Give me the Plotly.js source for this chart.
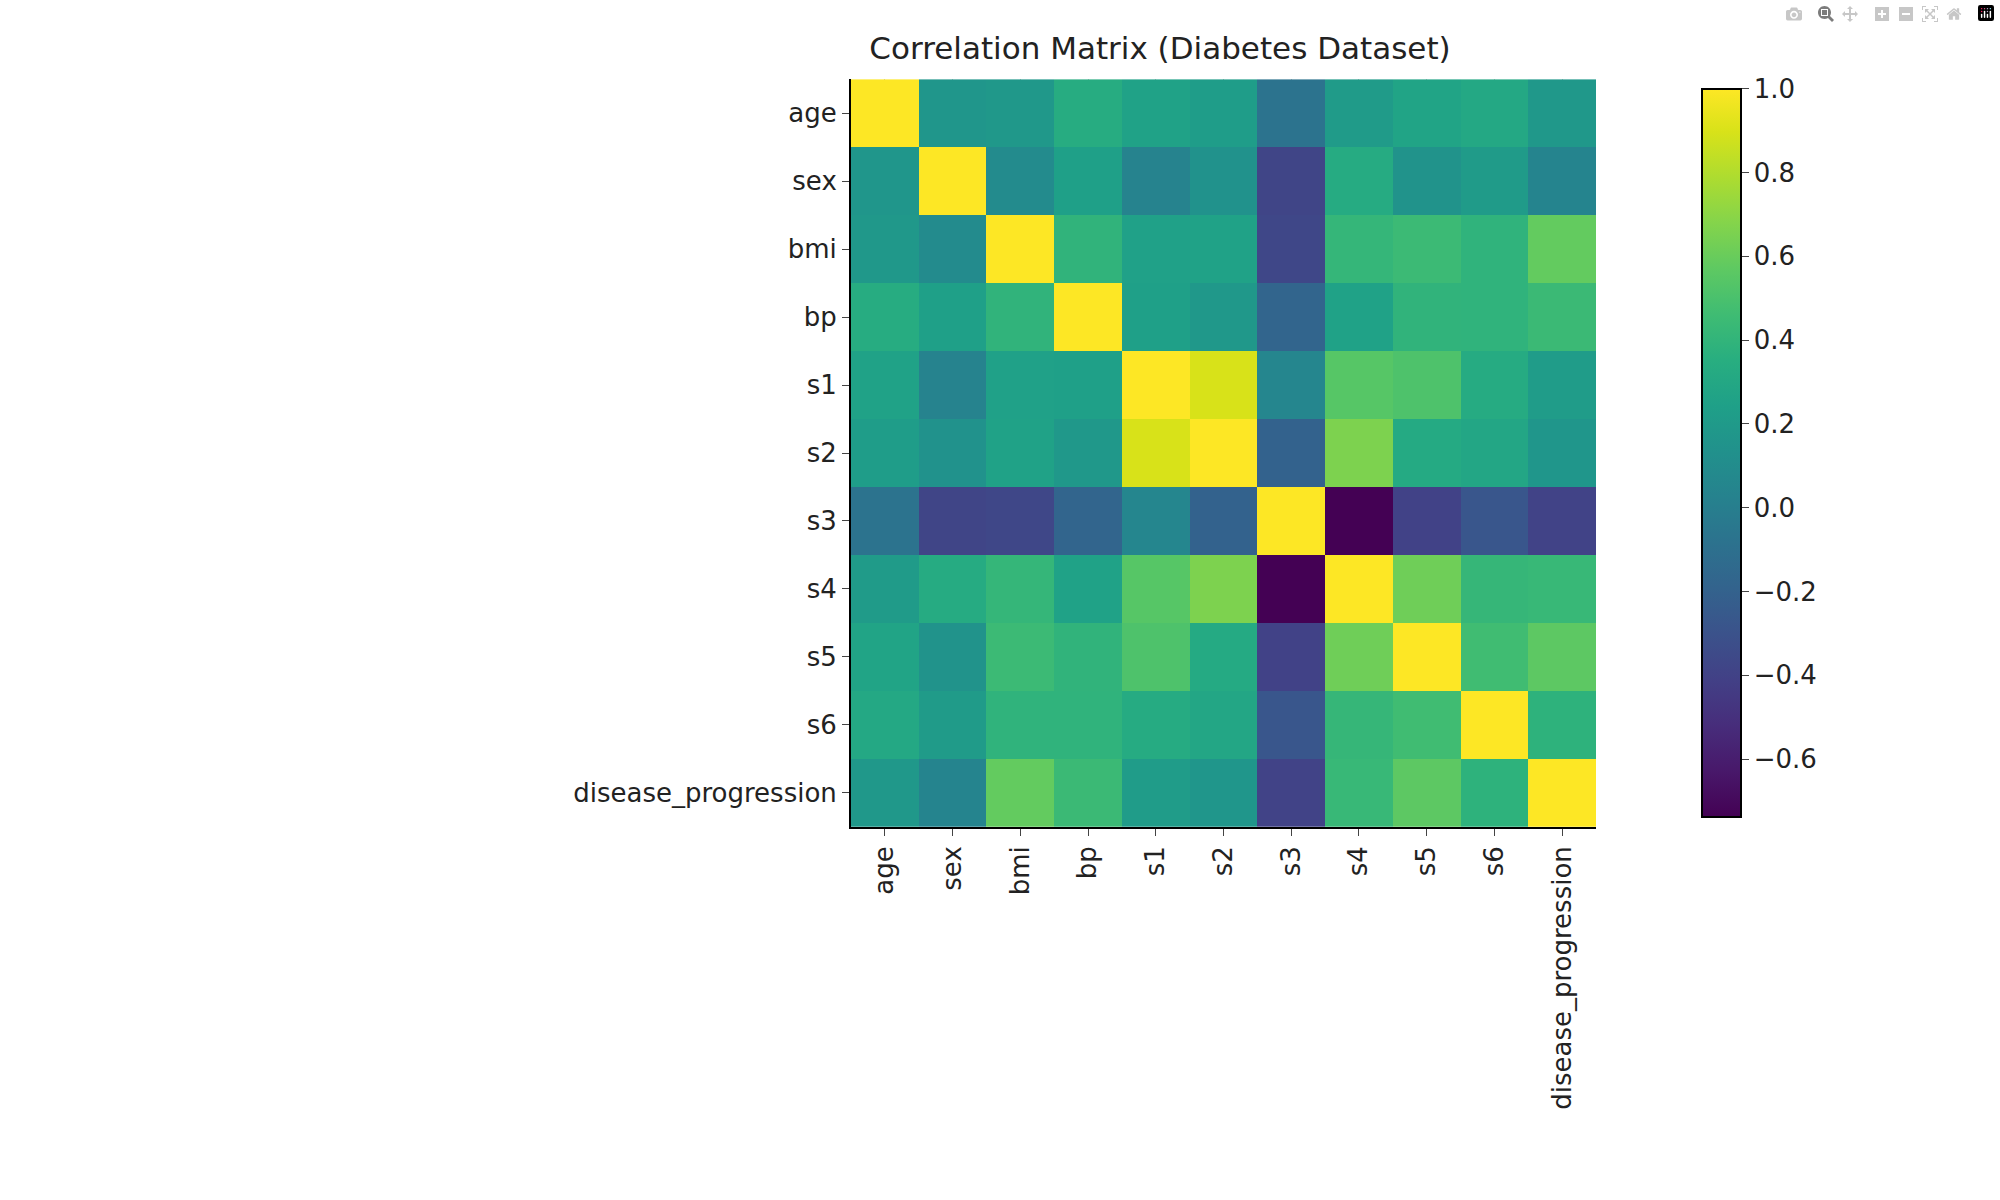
<!DOCTYPE html>
<html><head><meta charset="utf-8">
<script src="https://cdn.plot.ly/plotly-3.0.1.min.js"></script>
<style>body{margin:0}#c{width:2000px;height:1200px}</style></head>
<body><div id="c"></div>
<script>
const labels = ["age","sex","bmi","bp","s1","s2","s3","s4","s5","s6","disease_progression"];
const corr = [
 [1,0.174,0.185,0.335,0.260,0.219,-0.075,0.204,0.271,0.302,0.188],
 [0.174,1,0.088,0.241,0.035,0.143,-0.379,0.332,0.150,0.208,0.043],
 [0.185,0.088,1,0.395,0.250,0.261,-0.367,0.414,0.446,0.389,0.586],
 [0.335,0.241,0.395,1,0.242,0.186,-0.179,0.258,0.393,0.390,0.441],
 [0.260,0.035,0.250,0.242,1,0.897,0.052,0.542,0.516,0.326,0.212],
 [0.219,0.143,0.261,0.186,0.897,1,-0.196,0.660,0.318,0.291,0.174],
 [-0.075,-0.379,-0.367,-0.179,0.052,-0.196,1,-0.738,-0.399,-0.274,-0.395],
 [0.204,0.332,0.414,0.258,0.542,0.660,-0.738,1,0.618,0.417,0.430],
 [0.271,0.150,0.446,0.393,0.516,0.318,-0.399,0.618,1,0.465,0.566],
 [0.302,0.208,0.389,0.390,0.326,0.291,-0.274,0.417,0.465,1,0.382],
 [0.188,0.043,0.586,0.441,0.212,0.174,-0.395,0.430,0.566,0.382,1]
];
const cbTicks = [-0.6,-0.4,-0.2,0.0,0.2,0.4,0.6,0.8,1.0];
const F = {family:"DejaVu Sans", size:26, color:"#222"};
Plotly.newPlot("c",[{
 type:"heatmap", z:corr, x:labels, y:labels, colorscale:"Viridis",
 zmin:-0.738, zmax:1, xgap:0, ygap:0,
 colorbar:{x:0.846, xanchor:"left", y:0.311, yanchor:"bottom", len:0.623, lenmode:"fraction",
   thickness:39, outlinewidth:2, outlinecolor:"#000", tickvals:cbTicks, tickformat:".1f",
   ticks:"outside", ticklen:7, tickfont:F}
}],{
 width:2000, height:1200, margin:{l:0,r:0,t:0,b:0},
 paper_bgcolor:"#fff", plot_bgcolor:"#fff", font:F,
 title:{text:"Correlation Matrix (Diabetes Dataset)", x:0.58, xanchor:"center", y:0.96, yanchor:"middle", font:{family:"DejaVu Sans", size:31, color:"#222"}},
 xaxis:{domain:[0.4255,0.798], tickangle:-90, showline:true, linecolor:"#000", linewidth:2,
   ticks:"outside", ticklen:7, showgrid:true, gridcolor:"rgba(180,180,180,0.8)", griddash:"dash", gridwidth:1, tickfont:F, zeroline:false},
 yaxis:{domain:[0.311,0.934], autorange:"reversed", showline:true, linecolor:"#000", linewidth:2,
   ticks:"outside", ticklen:7, showgrid:true, gridcolor:"rgba(180,180,180,0.8)", griddash:"dash", gridwidth:1, tickfont:F, zeroline:false}
});
</script></body></html>
